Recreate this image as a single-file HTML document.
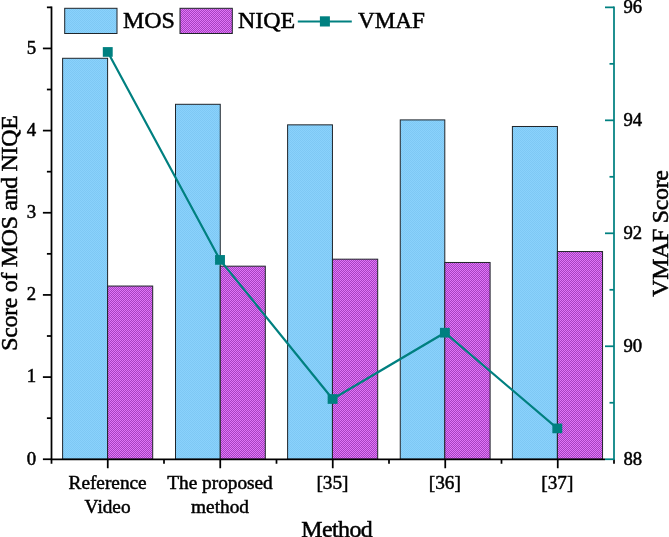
<!DOCTYPE html>
<html><head><meta charset="utf-8"><title>chart</title>
<style>
html,body{margin:0;padding:0;background:#fff;}
body{width:669px;height:537px;overflow:hidden;}
svg{display:block;will-change:transform;}
text{font-family:"Liberation Serif",serif;fill:#000;stroke:#000;stroke-width:0.5px;}
</style></head><body>
<svg width="669" height="537" viewBox="0 0 669 537">
<defs>
<pattern id="pb" width="2" height="2" patternUnits="userSpaceOnUse"><rect width="2" height="2" fill="#8ad2fc"/><rect width="1" height="1" fill="#7ec8f4"/><rect x="1" y="1" width="1" height="1" fill="#7ec8f4"/></pattern>
<pattern id="pp" width="2" height="2" patternUnits="userSpaceOnUse"><rect width="2" height="2" fill="#a642c0"/><rect width="1" height="1" fill="#e075f8"/><rect x="1" y="1" width="1" height="1" fill="#e075f8"/></pattern>
</defs>
<rect width="669" height="537" fill="#fff"/>

<rect x="62.60" y="58.29" width="45.00" height="400.96" fill="url(#pb)" stroke="#20252a" stroke-width="1"/>
<rect x="107.60" y="286.05" width="45.10" height="173.20" fill="url(#pp)" stroke="#20252a" stroke-width="1"/>
<rect x="175.50" y="104.30" width="44.75" height="354.95" fill="url(#pb)" stroke="#20252a" stroke-width="1"/>
<rect x="220.25" y="266.17" width="45.05" height="193.08" fill="url(#pp)" stroke="#20252a" stroke-width="1"/>
<rect x="287.60" y="124.84" width="44.85" height="334.41" fill="url(#pb)" stroke="#20252a" stroke-width="1"/>
<rect x="332.45" y="259.18" width="45.25" height="200.07" fill="url(#pp)" stroke="#20252a" stroke-width="1"/>
<rect x="400.25" y="119.91" width="44.55" height="339.34" fill="url(#pb)" stroke="#20252a" stroke-width="1"/>
<rect x="444.80" y="262.47" width="45.30" height="196.78" fill="url(#pp)" stroke="#20252a" stroke-width="1"/>
<rect x="512.40" y="126.49" width="45.00" height="332.76" fill="url(#pb)" stroke="#20252a" stroke-width="1"/>
<rect x="557.40" y="251.54" width="45.15" height="207.71" fill="url(#pp)" stroke="#20252a" stroke-width="1"/>
<line x1="50.75" y1="459.25" x2="605.0" y2="459.25" stroke="#000" stroke-width="1.75"/>
<line x1="51.50" y1="459.25" x2="51.50" y2="463.75" stroke="#000" stroke-width="1.75"/>
<line x1="107.75" y1="459.25" x2="107.75" y2="468.25" stroke="#000" stroke-width="1.75"/>
<line x1="164.00" y1="459.25" x2="164.00" y2="463.75" stroke="#000" stroke-width="1.75"/>
<line x1="220.25" y1="459.25" x2="220.25" y2="468.25" stroke="#000" stroke-width="1.75"/>
<line x1="276.50" y1="459.25" x2="276.50" y2="463.75" stroke="#000" stroke-width="1.75"/>
<line x1="332.75" y1="459.25" x2="332.75" y2="468.25" stroke="#000" stroke-width="1.75"/>
<line x1="389.00" y1="459.25" x2="389.00" y2="463.75" stroke="#000" stroke-width="1.75"/>
<line x1="445.25" y1="459.25" x2="445.25" y2="468.25" stroke="#000" stroke-width="1.75"/>
<line x1="501.50" y1="459.25" x2="501.50" y2="463.75" stroke="#000" stroke-width="1.75"/>
<line x1="557.75" y1="459.25" x2="557.75" y2="468.25" stroke="#000" stroke-width="1.75"/>
<line x1="614.00" y1="459.25" x2="614.00" y2="463.75" stroke="#000" stroke-width="1.75"/>
<line x1="51.5" y1="6.6" x2="51.5" y2="460.0" stroke="#000" stroke-width="1.75"/>
<line x1="42.9" y1="459.25" x2="51.5" y2="459.25" stroke="#000" stroke-width="1.75"/>
<text x="36.1" y="464.55" font-size="18.8" text-anchor="end">0</text>
<line x1="46.9" y1="418.17" x2="51.5" y2="418.17" stroke="#000" stroke-width="1.75"/>
<line x1="42.9" y1="377.09" x2="51.5" y2="377.09" stroke="#000" stroke-width="1.75"/>
<text x="36.1" y="382.39" font-size="18.8" text-anchor="end">1</text>
<line x1="46.9" y1="336.00" x2="51.5" y2="336.00" stroke="#000" stroke-width="1.75"/>
<line x1="42.9" y1="294.92" x2="51.5" y2="294.92" stroke="#000" stroke-width="1.75"/>
<text x="36.1" y="300.22" font-size="18.8" text-anchor="end">2</text>
<line x1="46.9" y1="253.84" x2="51.5" y2="253.84" stroke="#000" stroke-width="1.75"/>
<line x1="42.9" y1="212.76" x2="51.5" y2="212.76" stroke="#000" stroke-width="1.75"/>
<text x="36.1" y="218.06" font-size="18.8" text-anchor="end">3</text>
<line x1="46.9" y1="171.68" x2="51.5" y2="171.68" stroke="#000" stroke-width="1.75"/>
<line x1="42.9" y1="130.60" x2="51.5" y2="130.60" stroke="#000" stroke-width="1.75"/>
<text x="36.1" y="135.90" font-size="18.8" text-anchor="end">4</text>
<line x1="46.9" y1="89.51" x2="51.5" y2="89.51" stroke="#000" stroke-width="1.75"/>
<line x1="42.9" y1="48.43" x2="51.5" y2="48.43" stroke="#000" stroke-width="1.75"/>
<text x="36.1" y="53.73" font-size="18.8" text-anchor="end">5</text>
<line x1="46.9" y1="7.35" x2="51.5" y2="7.35" stroke="#000" stroke-width="1.75"/>
<line x1="614.0" y1="6.6" x2="614.0" y2="460.0" stroke="#008080" stroke-width="1.75"/>
<line x1="605.0" y1="459.25" x2="614.0" y2="459.25" stroke="#008080" stroke-width="1.75"/>
<text x="623.5" y="464.85" font-size="18.7">88</text>
<line x1="609.5" y1="402.76" x2="614.0" y2="402.76" stroke="#008080" stroke-width="1.75"/>
<line x1="605.0" y1="346.27" x2="614.0" y2="346.27" stroke="#008080" stroke-width="1.75"/>
<text x="623.5" y="351.88" font-size="18.7">90</text>
<line x1="609.5" y1="289.79" x2="614.0" y2="289.79" stroke="#008080" stroke-width="1.75"/>
<line x1="605.0" y1="233.30" x2="614.0" y2="233.30" stroke="#008080" stroke-width="1.75"/>
<text x="623.5" y="238.90" font-size="18.7">92</text>
<line x1="609.5" y1="176.81" x2="614.0" y2="176.81" stroke="#008080" stroke-width="1.75"/>
<line x1="605.0" y1="120.33" x2="614.0" y2="120.33" stroke="#008080" stroke-width="1.75"/>
<text x="623.5" y="125.93" font-size="18.7">94</text>
<line x1="609.5" y1="63.84" x2="614.0" y2="63.84" stroke="#008080" stroke-width="1.75"/>
<line x1="605.0" y1="7.35" x2="614.0" y2="7.35" stroke="#008080" stroke-width="1.75"/>
<text x="623.5" y="12.95" font-size="18.7">96</text>
<polyline points="107.75,51.95 220.00,259.90 332.60,399.00 444.90,332.70 557.30,428.40" fill="none" stroke="#008080" stroke-width="2.2"/>
<rect x="102.80" y="47.10" width="9.9" height="9.7" fill="#008080"/>
<rect x="215.05" y="255.05" width="9.9" height="9.7" fill="#008080"/>
<rect x="327.65" y="394.15" width="9.9" height="9.7" fill="#008080"/>
<rect x="439.95" y="327.85" width="9.9" height="9.7" fill="#008080"/>
<rect x="552.35" y="423.55" width="9.9" height="9.7" fill="#008080"/>
<rect x="64.7" y="8.3" width="52.3" height="25.2" fill="url(#pb)" stroke="#20252a" stroke-width="1"/>
<text x="122.9" y="28.4" font-size="24">MOS</text>
<rect x="180" y="8.3" width="52.3" height="25.2" fill="url(#pp)" stroke="#20252a" stroke-width="1"/>
<text x="237.9" y="28.4" font-size="24">NIQE</text>
<line x1="297.8" y1="21.5" x2="351.8" y2="21.5" stroke="#008080" stroke-width="2"/>
<rect x="319.9" y="16.3" width="10" height="10.2" fill="#008080"/>
<text x="357.9" y="28.4" font-size="23.2">VMAF</text>
<text x="107.60" y="489.1" font-size="19.3" text-anchor="middle">Reference</text>
<text x="107.60" y="512.5" font-size="19.3" text-anchor="middle">Video</text>
<text x="220.03" y="489.1" font-size="19.3" text-anchor="middle">The proposed</text>
<text x="220.03" y="512.5" font-size="19.3" text-anchor="middle">method</text>
<text x="332.46" y="489.1" font-size="19.3" text-anchor="middle">[35]</text>
<text x="444.89" y="489.1" font-size="19.3" text-anchor="middle">[36]</text>
<text x="557.32" y="489.1" font-size="19.3" text-anchor="middle">[37]</text>
<text x="337" y="537.1" font-size="23.9" text-anchor="middle" textLength="71.6" lengthAdjust="spacing">Method</text>
<text transform="translate(16.9,233) rotate(-90)" font-size="23.9" text-anchor="middle" textLength="235.6" lengthAdjust="spacing">Score of MOS and NIQE</text>
<text transform="translate(668.4,233.4) rotate(-90)" font-size="23.9" text-anchor="middle" textLength="126.6" lengthAdjust="spacing">VMAF Score</text>
</svg></body></html>
